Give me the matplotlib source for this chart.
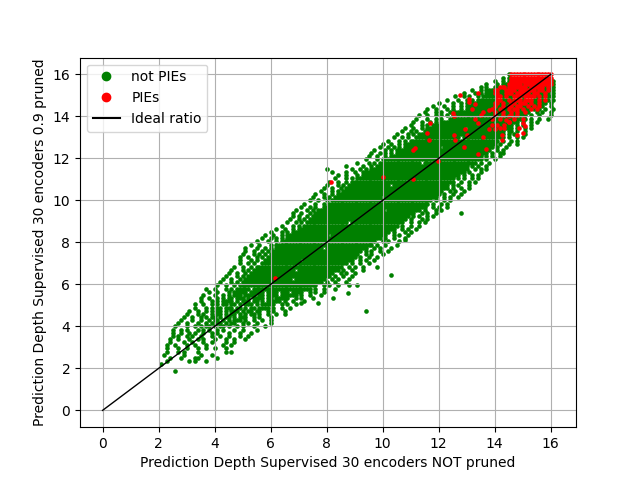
import matplotlib

matplotlib.use("Agg")
import matplotlib.pyplot as plt
from matplotlib.lines import Line2D

# Point cloud read off the reference as an occupancy map:
# row k sits at y = MAP_TOP_Y - k * MAP_ROW_STEP, column c at x = c * MAP_COL_STEP.
# Each row is (first column, one char per column): '#' = not PIE, 'r' = PIE, '.' = empty.
MAP_TOP_Y = 16.0
MAP_ROW_STEP = 0.15
MAP_COL_STEP = 0.1

CLOUD_ROWS = [
    (145, "#rrrrrrrrrrrrrrr"),
    (143, "#.#rrrrrrrrrrrrrrr"),
    (140, "#..#.#rrrrrrrrrrrrrrr#"),
    (137, "#...#.##rrrrr#rrrrrrrrrr#"),
    (135, "#.#..##rr#rrrrrrr#rrrrr#r##"),
    (132, "#..#.###rr##rrrr#rrrrrr#rr#r##"),
    (129, "#...#.#.###rr##rrr#rrrrr#rr##r#.#"),
    (126, "#..#.#..#.#####rr#r##rrr#rrrr#r#r###"),
    (123, "#...#..#.#.#######rr##r#rrr#rrr##r#r#.#"),
    (120, "#....#..#.#.########rr#r##rr#rrr#r##r##.#"),
    (118, "#...#..#..#.##########r##r#rr#rr##r#r#r#..#"),
    (116, "#..#...#.#..#.#########r##r##r#rr#r##r#r#.#..#"),
    (115, "#...#.#..#.##########r###r##r##r#r##r#..#.#..#"),
    (113, "#..#..#.#.#.##########r####r##r##r#r###.#..#...#"),
    (112, "#...#..#.#..#########r#####r##r####r##r#.#..#..#"),
    (111, "#..#..#.#." "##########" "#########." "####r###" ".#..#.#"),
    (110, "#...#.#." "##########" "##########" "###r#####" ".#.#..#"),
    (108, "#..#..#." "##########" "####.#####" "######r###" "#.#..#.#"),
    (107, "#..#.#.." "##########" "##########" "#########" ".##.#..#"),
    (105, "#...#.#." "##########" "##########" "##########" "#.#.#...#"),
    (104, "#..#.#.." "##########" "######.###" "##########" "##.#..#.#"),
    (102, "#...#.#." "##########" "##########" "##########" "#" "#.#..#.#"),
    (100, "#..#..#.#" "##########" "##########" "##########" "#" "#.#..#..#"),
    (99, "#..#.#.#." "##########" "###.######" "##########" "#" "#.#..#."),
    (97, "#...#.#.#" "##########" "##########" "##########" "##" "#..#.#"),
    (96, "#..#.#.#." "##########" "##########" "##########" "##" "#.#..##"),
    (95, "#..#..#." "##########" "##########" "##########" "###" ".#.#..#"),
    (94, "#...#.#" "##########" "##########" "##########" "####" "#.#..#"),
    (91, "#...#.#." "##########" "#####.####" "##########" "####" "#.#..#"),
    (87, "#.....#..#." "##########" "##########" "##########" "###" ".#.#..#"),
    (80, "#........#..#.#." "##########" "##########" "##########" "####" "#..#.#.#"),
    (82, "#....#..#..#" "##########" "##########" "##########" "#####" "#.#...#"),
    (84, "#..#...#." "##########" "##########" "##########" "####" "#.#..#.#."),
    (83, "#...#.#." "##########" "##########" "##########" "#####" ".#.#..#.#"),
    (81, "#..#..#.#" "##########" "##########" "##########" "#####" "#..#..#.#"),
    (80, "#...#.#.#" "##########" "####.#####" "##########" "#####" ".#.#...#"),
    (79, "#..#..#.#" "##########" "##########" "##########" "#####" "#.#..#..#"),
    (78, "#...#.#.#" "##########" "##########" "##########" "####" "#..#.#..#"),
    (76, "#..#..#.#" "##########" "##########" "##########" "#####" "#.#..#..#"),
    (75, "#...#.#.#" "##########" "######.###" "##########" "#####" "#..#.#..#"),
    (74, "#..#..#.#" "##########" "##########" "##########" "#####" ".#..#.#."),
    (72, "#...#..#." "##########" "##########" "##########" "#####" "#.#..#.#"),
    (71, "#..#.#..#" "##########" "##########" "##########" "#####" "#..#.#..#"),
    (69, "#...#.#.#" "##########" "##########" "###.######" "#####" "#.#...#.#"),
    (68, "#..#..#.#" "##########" "##########" "##########" "####" "#..#.#..#"),
    (68, "#.#..#." "##########" "##########" "##########" "#####" ".#.#..#.#"),
    (67, "#..#.#." "##########" "##########" "##########" "####" "#.#...#.#"),
    (66, "#..#.#." "##########" "#####.####" "##########" "####" "#..#..#.#"),
    (64, "#...#.#." "##########" "##########" "##########" "###" "#.#..#..#"),
    (62, "#..#..#." "##########" "##########" "##########" "####" "#..#.#..#"),
    (60, "#...#.#." "##########" "##########" "##########" "####" "#.#...#.#."),
    (58, "#..#..#.#" "##########" "####.#####" "##########" "####" "#..#.#..#"),
    (57, "#..#.#.#." "##########" "##########" "##########" "###" "#.#..#...#"),
    (55, "#...#..#." "##########" "##########" "##########" "###" "#..#.#...#"),
    (53, "#..#...#.#" "##########" "##########" "##########" "###" "#.#..#...#"),
    (51, "#...#..#.#." "##########" "#######.##" "##########" "##" "#..#.#...#"),
    (51, "#..#..#.#." "##########" "##########" "##########" "##" ".#.#..#..#"),
    (50, "#...#.#.#." "##########" "##########" "##########" "#" "#..#.#...#"),
    (49, "#..#..#.#." "##########" "##########" "##########" "#" "#.#..#..#"),
    (49, "#...#.#.." "##########" "###.######" "##########" "#" "#..#.#..#"),
    (49, "#..#.#.." "##########" "##########" "##########" "#.#..#..#"),
    (47, "#..#..#.#" "##########" "##########" "#########" "#..#.#..#"),
    (46, "#...#.#.#" "##########" "####.#####" "#########" "#.#..#...#"),
    (45, "#..#..#.#" "##########" "##########" "########" "#..#.#..#"),
    (44, "#...#.#.#" "##########" "##########" "########" "#.#..#..#"),
    (43, "#..#..#.#" "##########" "######.###" "#######" "#..#.#...#"),
    (42, "#...#.#.#" "##########" "##########" "#######" "#.#..#...#"),
    (41, "#..#..#.#" "##########" "##########" "######" "#..#.#..#...#..#"),
    (40, "#...#.#.#" "####.#####" "##########" "#####" "#.#..#...#"),
    (38, "#..#...#.#" "####.#####.####.###.###" "#..#.#..#"),
    (36, "#...#..#.#." "###.####.##.####.#####" "#.#..#...#"),
    (35, "#..#..#.#." "##.###.#.####.##.####" "#..#.#...#"),
    (35, "#...#.#.#" "###.#.###.##.#.####" "#.#..#...#"),
    (33, "#..#..#.#." "##.##.#.###.#.####" "#..#.#..#"),
    (33, "#...#.#.#" "#.###.##.#.##.###" "#.#..#..#"),
    (31, "#..#..#.#." "##.#.###.#.##.#" "#..#.#...#"),
    (30, "#...#.#.." "#.##.#.##.#.#.#" "#.#..#..#..#"),
    (29, "#..#..#.#." "##.#.##.#.##" "#..#.#...#"),
    (28, "#...#..#.." "#.##.#.#.##" "#.#..#..#..#"),
    (27, "#..#...#.." "#.#.##.#.#" "#..#.#..#....#"),
    (26, "#...#..#.#.##.#.##.#..#.#...#...#"),
    (25, "#..#.#...#.#.#..#.#...#..#....#"),
    (25, "#..#..#.#..#..#.#...#...#...#"),
    (25, "#.#..#.#..#...#..#..#...#..#"),
    (24, "#..#...#..#.#...#...#..#...#"),
    (24, "#....#..#...#..#....#..#"),
    (23, "#..#...#..#...#.....#..#"),
    (23, "#...#..#...#..#..#...#"),
    (23, "#...#.#....#.........#.#"),
    (22, "#......#.....#...#"),
    (22, "..#...#....##......#"),
    (23, "#.......#.#...#"),
    (21, "#"),
    (0, ""),
    (26, "#"),
]

# isolated points far from the main band
GREEN_EXTRA_X = [9.4, 10.3, 10.8, 9.8, 8.75, 8.24, 7.68, 7.1, 12.8, 3.7]
GREEN_EXTRA_Y = [4.73, 6.44, 8.1, 6.85, 5.57, 5.33, 5.1, 5.1, 9.4, 5.8]

RED_X = [12.76, 13.1, 13.1, 13.2, 13.4, 13.3, 13.8, 14.35, 12.5, 12.56,
         11.7, 11.65, 11.1, 11.15, 11.6, 11.1, 10.0, 8.15, 6.17, 11.97,
         12.6, 12.54, 12.9, 12.94, 13.0, 13.4, 13.7, 13.6, 13.4, 13.8,
         13.9, 14.0, 14.26, 14.35, 14.35, 14.4, 14.5, 14.5, 14.28, 14.8,
         14.87, 15.0, 15.0, 15.1]
RED_Y = [15.03, 14.67, 14.85, 14.35, 15.1, 14.6, 14.3, 15.4, 14.14, 14.03,
         13.7, 12.87, 12.4, 12.5, 13.2, 11.0, 11.1, 10.9, 6.3, 11.87,
         12.9, 13.1, 12.52, 13.38, 13.1, 12.2, 12.47, 13.0, 13.67, 13.4,
         13.6, 13.4, 13.1, 13.6, 13.45, 13.85, 13.75, 14.0, 12.86, 13.1,
         13.43, 13.67, 13.2, 13.55]

IDEAL_X = [0, 16]
IDEAL_Y = [0, 16]


def unpack_map():
    gx, gy, rx, ry = [], [], [], []
    for k, (c0, pattern) in enumerate(CLOUD_ROWS):
        y = MAP_TOP_Y - k * MAP_ROW_STEP
        for j, ch in enumerate(pattern):
            x = (c0 + j) * MAP_COL_STEP
            if ch == "#":
                gx.append(x)
                gy.append(y)
            elif ch == "r":
                rx.append(x)
                ry.append(y)
    return gx, gy, rx, ry


def main() -> None:
    gx, gy, rx, ry = unpack_map()
    gx += GREEN_EXTRA_X
    gy += GREEN_EXTRA_Y
    rx += RED_X
    ry += RED_Y

    fig, ax = plt.subplots(figsize=(6.4, 4.8), dpi=100)
    ax.scatter(gx, gy, s=11, color="green", linewidths=0)
    ax.scatter(rx, ry, s=11, color="red", linewidths=0)
    ax.plot(IDEAL_X, IDEAL_Y, color="black", linewidth=1)

    handles = [
        Line2D([], [], marker="o", linestyle="", color="green", label="not PIEs"),
        Line2D([], [], marker="o", linestyle="", color="red", label="PIEs"),
        Line2D([], [], color="black", label="Ideal ratio"),
    ]
    ax.legend(handles=handles, loc="upper left")
    ax.set_xlabel("Prediction Depth Supervised 30 encoders NOT pruned")
    ax.set_ylabel("Prediction Depth Supervised 30 encoders 0.9 pruned")
    ax.grid(True)

    fig.savefig("out.png", dpi=100)
    plt.close(fig)


if __name__ == "__main__":
    main()
